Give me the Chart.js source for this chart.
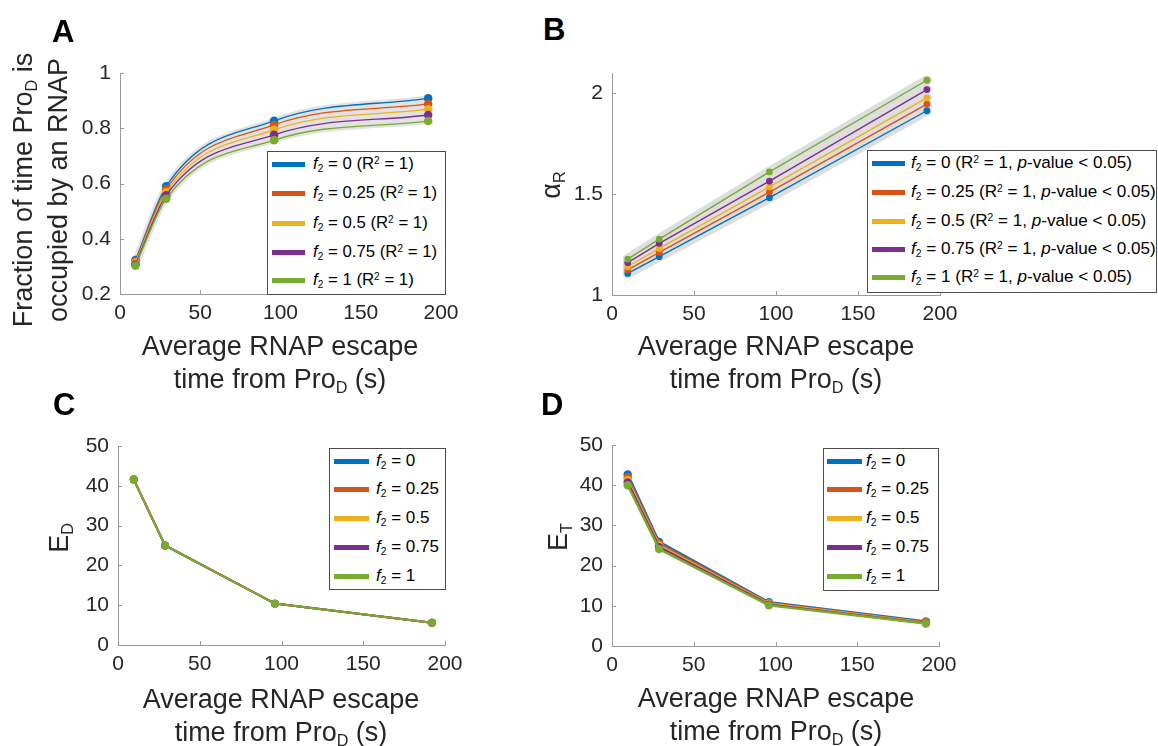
<!DOCTYPE html>
<html>
<head>
<meta charset="utf-8">
<script src="https://cdn.jsdelivr.net/npm/chart.js@4.4.1/dist/chart.umd.min.js"></script>
<style>
  html, body { margin: 0; padding: 0; background: #fff; }
  body { width: 1158px; height: 746px; position: relative; overflow: hidden;
         font-family: "Liberation Sans", Arial, Helvetica, sans-serif; color: #262626; }
  canvas.cv { position: absolute; }
  .letter { position: absolute; font-weight: bold; font-size: 31px; line-height: 31px; color: #000; }
  .xt { position: absolute; font-size: 27px; line-height: 33px; text-align: center; white-space: nowrap;
        transform: translateX(-50%); }
  .yt { position: absolute; font-size: 27px; line-height: 35px; text-align: center; white-space: nowrap;
        transform: translate(-50%, -50%) rotate(-90deg); }
  sub { font-size: 60%; vertical-align: -0.32em; line-height: 0; }
  sup { font-size: 60%; vertical-align: 0.5em; line-height: 0; }
  .legend { position: absolute; border: 1px solid #4d4d4d; background: #fff; box-sizing: border-box; overflow: hidden; }
  .row { position: absolute; height: 24px; display: flex; align-items: center; white-space: nowrap; color: #000; }
  .swatch { display: inline-block; height: 5px; }
</style>
</head>
<body>
<canvas id="cA" class="cv"></canvas>
<canvas id="cB" class="cv"></canvas>
<canvas id="cC" class="cv"></canvas>
<canvas id="cD" class="cv"></canvas>

<div class="letter" style="left:52px;top:16px">A</div>
<div class="letter" style="left:543px;top:14px">B</div>
<div class="letter" style="left:53px;top:389px">C</div>
<div class="letter" style="left:541px;top:389px">D</div>

<div class="yt" style="left:41px;top:190px">Fraction of time Pro<sub>D</sub> is<br>occupied by an RNAP</div>
<div class="yt" style="left:551px;top:185px;line-height:33px">&alpha;<sub>R</sub></div>
<div class="yt" style="left:59px;top:538px;line-height:33px">E<sub>D</sub></div>
<div class="yt" style="left:558px;top:537px;line-height:33px">E<sub>T</sub></div>

<div class="xt" style="left:280px;top:330px">Average RNAP escape<br>time from Pro<sub>D</sub> (s)</div>
<div class="xt" style="left:776px;top:330px">Average RNAP escape<br>time from Pro<sub>D</sub> (s)</div>
<div class="xt" style="left:281px;top:683px">Average RNAP escape<br>time from Pro<sub>D</sub> (s)</div>
<div class="xt" style="left:776px;top:682px">Average RNAP escape<br>time from Pro<sub>D</sub> (s)</div>

<script>
// Average RNAP escape time from Pro_D (s), shared x values of every panel
const escapeTime = [9.6, 28.8, 96, 192];
// f2 levels shown in every legend
const f2Levels = [0, 0.25, 0.5, 0.75, 1];
const seriesColors = ['#0072BD', '#D95319', '#EDB120', '#7E2F8E', '#77AC30'];

// Panel A: fraction of time Pro_D is occupied by an RNAP
const occupiedF0   = [0.323, 0.590, 0.827, 0.908];
const occupiedF025 = [0.318, 0.579, 0.812, 0.888];
const occupiedF05  = [0.313, 0.568, 0.794, 0.869];
const occupiedF075 = [0.307, 0.557, 0.776, 0.848];
const occupiedF1   = [0.302, 0.545, 0.757, 0.826];

// Panel B: alpha_R
const alphaF0   = [1.107, 1.190, 1.482, 1.913];
const alphaF025 = [1.124, 1.211, 1.510, 1.946];
const alphaF05  = [1.140, 1.231, 1.536, 1.977];
const alphaF075 = [1.160, 1.256, 1.564, 2.018];
const alphaF1   = [1.178, 1.277, 1.610, 2.064];

// Panel C: E_D (identical for every f2)
const edF0   = [41.6, 25.0, 10.4, 5.6];
const edF025 = [41.6, 25.0, 10.4, 5.6];
const edF05  = [41.6, 25.0, 10.4, 5.6];
const edF075 = [41.6, 25.0, 10.4, 5.6];
const edF1   = [41.6, 25.0, 10.4, 5.6];

// Panel D: E_T
const etF0   = [42.7, 25.9, 10.9, 6.1];
const etF025 = [42.0, 25.5, 10.7, 5.9];
const etF05  = [41.3, 25.0, 10.5, 5.8];
const etF075 = [40.7, 24.6, 10.3, 5.7];
const etF1   = [40.0, 24.1, 10.1, 5.6];

// Axis ranges and tick labels
const timeRange = [0, 200];
const timeTicks = [0, 50, 100, 150, 200];
const occupiedRange = [0.2, 1];
const occupiedTicks = [0.2, 0.4, 0.6, 0.8, 1];
const alphaRange = [1, 2.1];
const alphaTicks = [1, 1.5, 2];
const effRange = [0, 50];
const effTicks = [0, 10, 20, 30, 40, 50];

const FONT = '"Liberation Sans", Arial, Helvetica, sans-serif';
const AXIS = '#9a9a9a';
const TICK = '#262626';
const YW = 56, XH = 36, PT = 26, PR = 28, PB = 4;

// MATLAB-style inward tick marks
const innerTicks = {
  id: 'innerTicks',
  afterDraw(chart) {
    const { ctx, chartArea: a, scales: { x, y } } = chart;
    ctx.save();
    ctx.strokeStyle = AXIS;
    ctx.lineWidth = 1;
    ctx.beginPath();
    x.ticks.forEach(t => {
      const px = Math.round(x.getPixelForValue(t.value)) + 0.5;
      ctx.moveTo(px, a.bottom); ctx.lineTo(px, a.bottom - 4);
    });
    y.ticks.forEach(t => {
      const py = Math.round(y.getPixelForValue(t.value)) + 0.5;
      ctx.moveTo(a.left, py); ctx.lineTo(a.left + 4, py);
    });
    ctx.stroke();
    ctx.restore();
  }
};

function xyPoints(vals) {
  return escapeTime.map((t, i) => ({ x: t, y: vals[i] }));
}

function buildDatasets(seriesList, style) {
  const sets = [];
  const mode = style.curve ? 'monotone' : 'default';
  if (style.halo) {
    // grey confidence band drawn beneath the fitted lines
    seriesList.forEach(vals => sets.push({
      data: xyPoints(vals), borderColor: style.haloColor, borderWidth: style.halo,
      pointRadius: 0, pointHoverRadius: 0, cubicInterpolationMode: mode, tension: 0,
      fill: false, order: 10, borderCapStyle: 'round'
    }));
  }
  seriesList.forEach((vals, k) => sets.push({
    label: 'f2 = ' + f2Levels[k],
    data: xyPoints(vals), borderColor: seriesColors[k], backgroundColor: seriesColors[k],
    borderWidth: style.lw, pointRadius: style.r, pointHoverRadius: style.r, pointBorderWidth: 0,
    cubicInterpolationMode: mode, tension: 0, fill: false, order: 5 - k
  }));
  return sets;
}

function axis(range, ticks, isX) {
  return {
    type: 'linear', min: range[0], max: range[1],
    afterBuildTicks: s => { s.ticks = ticks.map(v => ({ value: v })); },
    ticks: { callback: v => String(v), font: { family: FONT, size: 21 }, color: TICK,
             padding: isX ? 7 : 9, maxRotation: 0, autoSkip: false, includeBounds: false },
    grid: { display: false, drawTicks: false },
    border: { display: true, color: AXIS, width: 1 },
    afterFit: s => { if (isX) s.height = XH; else s.width = YW; }
  };
}

function makePanel(id, plot, yRange, yTicks, seriesList, style) {
  const cv = document.getElementById(id);
  const w = (plot.r - plot.l) + YW + PR;
  const h = (plot.b - plot.t) + PT + XH + PB;
  cv.width = w; cv.height = h;
  cv.style.left = (plot.l - YW) + 'px';
  cv.style.top = (plot.t - PT) + 'px';
  cv.style.width = w + 'px';
  cv.style.height = h + 'px';
  new Chart(cv, {
    type: 'line',
    data: { datasets: buildDatasets(seriesList, style) },
    options: {
      responsive: false, animation: false, devicePixelRatio: 1,
      layout: { padding: { left: 0, top: PT, right: PR, bottom: PB } },
      plugins: { legend: { display: false }, tooltip: { enabled: false } },
      scales: { x: axis(timeRange, timeTicks, true), y: axis(yRange, yTicks, false) }
    },
    plugins: [innerTicks]
  });
}

function makeLegend(box, rows, swatch, fontSize, textFn) {
  const lg = document.createElement('div');
  lg.className = 'legend';
  Object.assign(lg.style, { left: box.l + 'px', top: box.t + 'px',
    width: (box.r - box.l) + 'px', height: (box.b - box.t) + 'px' });
  document.body.appendChild(lg);
  f2Levels.forEach((v, k) => {
    const row = document.createElement('div');
    row.className = 'row';
    row.style.left = (swatch.l - box.l - 1) + 'px';
    row.style.top = (rows[k] - box.t - 13) + 'px';
    row.style.fontSize = fontSize + 'px';
    const sw = document.createElement('span');
    sw.className = 'swatch';
    sw.style.width = swatch.w + 'px';
    sw.style.background = seriesColors[k];
    sw.style.marginRight = swatch.gap + 'px';
    const tx = document.createElement('span');
    tx.innerHTML = textFn(v);
    row.appendChild(sw); row.appendChild(tx);
    lg.appendChild(row);
  });
}

makePanel('cA', { l: 120, r: 441, t: 73, b: 294 }, occupiedRange, occupiedTicks,
  [occupiedF0, occupiedF025, occupiedF05, occupiedF075, occupiedF1],
  { curve: true, halo: 6, haloColor: '#e2e2e2', lw: 1.3, r: 4.3 });
makePanel('cB', { l: 612, r: 940, t: 73, b: 295 }, alphaRange, alphaTicks,
  [alphaF0, alphaF025, alphaF05, alphaF075, alphaF1],
  { curve: false, halo: 10, haloColor: '#dedede', lw: 1.4, r: 3.4 });
makePanel('cC', { l: 118, r: 445, t: 446, b: 645 }, effRange, effTicks,
  [edF0, edF025, edF05, edF075, edF1], { curve: false, halo: 0, lw: 2, r: 3.9 });
makePanel('cD', { l: 612, r: 939, t: 445, b: 646 }, effRange, effTicks,
  [etF0, etF025, etF05, etF075, etF1], { curve: false, halo: 0, lw: 2.4, r: 4.2 });

const f2Label = v => '<i>f</i><sub>2</sub> = ' + v;
makeLegend({ l: 267, t: 151, r: 446, b: 295 }, [164, 193, 223, 252, 280],
  { l: 272, w: 33, gap: 8 }, 16.8, v => f2Label(v) + ' (R<sup>2</sup> = 1)');
makeLegend({ l: 867, t: 150, r: 1157, b: 293 }, [163, 192, 221, 249, 277],
  { l: 872, w: 33, gap: 6 }, 17.1, v => f2Label(v) + ' (R<sup>2</sup> = 1, <i>p</i>-value &lt; 0.05)');
makeLegend({ l: 329, t: 448, r: 446, b: 590 }, [461, 489, 518, 547, 576],
  { l: 334, w: 35, gap: 7 }, 17, f2Label);
makeLegend({ l: 823, t: 448, r: 939, b: 591 }, [461, 489, 518, 547, 576],
  { l: 827, w: 35, gap: 4 }, 17, f2Label);
</script>
</body>
</html>
